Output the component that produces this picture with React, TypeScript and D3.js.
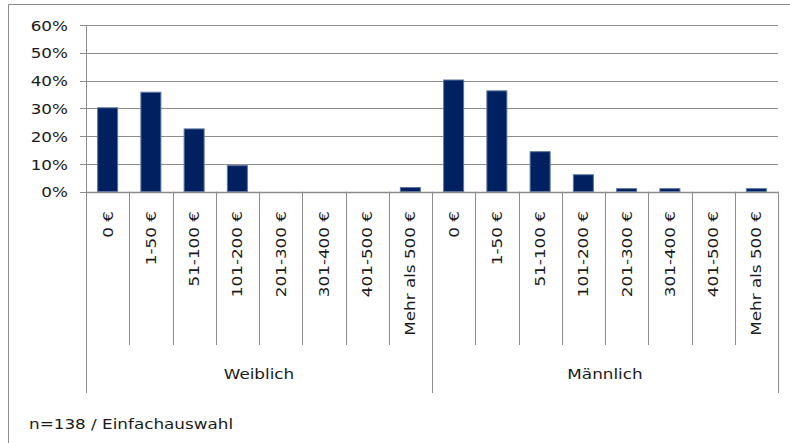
import React from "react";
import * as d3 from "d3";

const groups = ["Weiblich", "Männlich"];
const categories = ["0 €", "1-50 €", "51-100 €", "101-200 €", "201-300 €", "301-400 €", "401-500 €", "Mehr als 500 €"];
const weiblichValues = [30.2, 35.8, 22.6, 9.4, 0, 0, 0, 1.5];
const maennlichValues = [40.2, 36.3, 14.4, 6.1, 1.1, 1.1, 0, 1.1];
const yTicks = [0, 10, 20, 30, 40, 50, 60];
const footnote = "n=138 / Einfachauswahl";

const W = 790;
const H = 443;
const FONT = "'DejaVu Sans', Verdana, sans-serif";
const FS = 14;
const SX = 1.2;
const TXT = "#1a1a1a";
const AX = "#8c8c8c";

export default function App() {
  const seriesByGroup = [weiblichValues, maennlichValues];
  const rows = groups.flatMap((g, gi) =>
    categories.map((c, ci) => ({ key: `${g}|${c}`, group: g, cat: c, value: seriesByGroup[gi][ci] }))
  );

  const left = 86;
  const right = 778;
  const top = 25;
  const bottom = 191.7;
  const x = d3.scaleBand<string>().domain(rows.map((r) => r.key)).range([left, right]).paddingInner(0).paddingOuter(0);
  const y = d3.scaleLinear().domain([0, 60]).range([bottom, top]);
  const bw = x.bandwidth();
  const barW = 20;
  const tickBottom = 345;
  const groupBottom = 393;

  const groupSpan = (g: string) => {
    const keys = rows.filter((r) => r.group === g).map((r) => r.key);
    const x0 = x(keys[0])!;
    const x1 = x(keys[keys.length - 1])! + bw;
    return [x0, x1];
  };

  return (
    <svg width={W} height={H} style={{ position: "absolute", left: 0, top: 0, background: "#fff" }} fontFamily={FONT}>
      <rect x={0} y={0} width={W} height={H} fill="#fff" />
      {/* outer border */}
      <line x1={8.5} y1={4.5} x2={W} y2={4.5} stroke={AX} strokeWidth={1} />
      <line x1={8.5} y1={4.5} x2={8.5} y2={H} stroke={AX} strokeWidth={1} />

      {/* gridlines and y labels */}
      {yTicks.map((t) => (
        <g key={t}>
          <line x1={80} x2={right} y1={Math.round(y(t)) + 0.5} y2={Math.round(y(t)) + 0.5} stroke={AX} strokeWidth={1} />
          <text
            transform={`translate(68,${y(t)}) scale(${SX},1)`}
            dy="0.4em"
            textAnchor="end"
            fontSize={FS}
            fill={TXT}
          >
            {`${t}%`}
          </text>
        </g>
      ))}

      {/* y axis line */}
      <line x1={left + 0.5} x2={left + 0.5} y1={top} y2={groupBottom} stroke={AX} strokeWidth={1} />

      {/* bars */}
      {rows.map((r) =>
        r.value > 0 ? (
          <rect
            key={r.key}
            x={x(r.key)! + bw / 2 - barW / 2}
            y={y(r.value)}
            width={barW}
            height={bottom - y(r.value)}
            fill="#002060"
            stroke="#5b76a3"
            strokeWidth={1}
          />
        ) : null
      )}

      {/* category ticks */}
      {rows.map((r, i) =>
        i > 0 && i % categories.length !== 0 ? (
          <line
            key={"t" + r.key}
            x1={Math.round(x(r.key)!) + 0.5}
            x2={Math.round(x(r.key)!) + 0.5}
            y1={bottom}
            y2={tickBottom}
            stroke={AX}
            strokeWidth={1}
          />
        ) : null
      )}

      {/* group boundaries */}
      {groups.map((g) => {
        const [, x1] = groupSpan(g);
        return (
          <line key={"gb" + g} x1={Math.round(x1) + 0.5} x2={Math.round(x1) + 0.5} y1={bottom} y2={groupBottom} stroke={AX} strokeWidth={1} />
        );
      })}

      {/* x axis line */}
      <line x1={left} x2={right + 0.5} y1={Math.round(bottom) + 0.5} y2={Math.round(bottom) + 0.5} stroke={AX} strokeWidth={1.5} />

      {/* category labels */}
      {rows.map((r) => {
        const cx = x(r.key)! + bw / 2;
        const ty = 211;
        return (
          <text
            key={"l" + r.key}
            transform={`translate(${cx},${ty}) rotate(-90) scale(${SX},1)`}
            dy="0.36em"
            textAnchor="end"
            fontSize={FS}
            fill={TXT}
          >
            {r.cat}
          </text>
        );
      })}

      {/* group labels */}
      {groups.map((g) => {
        const [x0, x1] = groupSpan(g);
        return (
          <text
            key={"g" + g}
            transform={`translate(${(x0 + x1) / 2},379) scale(${SX},1)`}
            textAnchor="middle"
            fontSize={FS}
            fill={TXT}
          >
            {g}
          </text>
        );
      })}

      <text transform={`translate(29,429) scale(${SX},1)`} fontSize={FS} fill={TXT}>
        {footnote}
      </text>
    </svg>
  );
}
